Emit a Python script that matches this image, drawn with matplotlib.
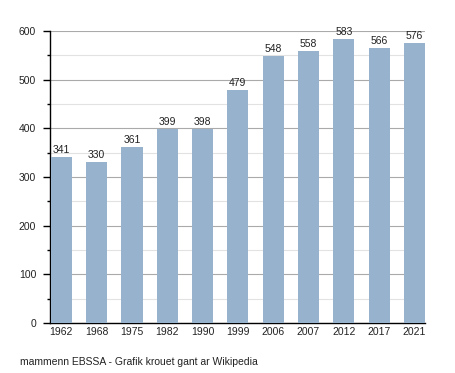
import matplotlib
matplotlib.use("Agg")
import matplotlib.pyplot as plt
from matplotlib.ticker import MultipleLocator

years = ["1962", "1968", "1975", "1982", "1990", "1999", "2006", "2007", "2012", "2017", "2021"]
population = [341, 330, 361, 399, 398, 479, 548, 558, 583, 566, 576]
source = "mammenn EBSSA - Grafik krouet gant ar Wikipedia"

plt.rcParams['font.family'] = ['Liberation Sans', 'DejaVu Sans']
fig = plt.figure(figsize=(4.55, 3.73), dpi=100)
ax = fig.add_axes([50/455, 1-323/373, 375/455, (323-31)/373])

x = list(range(len(years)))
ax.bar(x, population, width=0.6, color="#97b2cc", zorder=3)
for xi, v in zip(x, population):
    ax.text(xi, v + 4, str(v), ha="center", va="bottom", fontsize=7.5, color="#222222", zorder=4)

ax.set_xlim(-0.32, len(years) - 1 + 0.3)
ax.set_ylim(0, 600)
ax.yaxis.set_major_locator(MultipleLocator(100))
ax.yaxis.set_minor_locator(MultipleLocator(50))
ax.grid(axis="y", which="major", color="#aaaaaa", linewidth=0.8, zorder=0)
ax.grid(axis="y", which="minor", color="#e2e2e2", linewidth=0.8, zorder=0)
ax.set_xticks(x)
ax.set_xticklabels(years)
for s in ["top", "right"]:
    ax.spines[s].set_visible(False)
ax.spines["left"].set_linewidth(1.0)
ax.spines["bottom"].set_linewidth(1.0)
ax.tick_params(axis="x", length=0, pad=3, labelsize=7.5, colors="black", labelcolor="#222222")
ax.tick_params(axis="y", which="major", length=5, width=1, pad=5, labelsize=7.5, labelcolor="#222222")
ax.tick_params(axis="y", which="minor", length=2.5, width=1)

fig.text(20/455, 1-362/373, source, fontsize=7.5, color="#222222", va="center", ha="left")
fig.savefig("out.png", dpi=100)
